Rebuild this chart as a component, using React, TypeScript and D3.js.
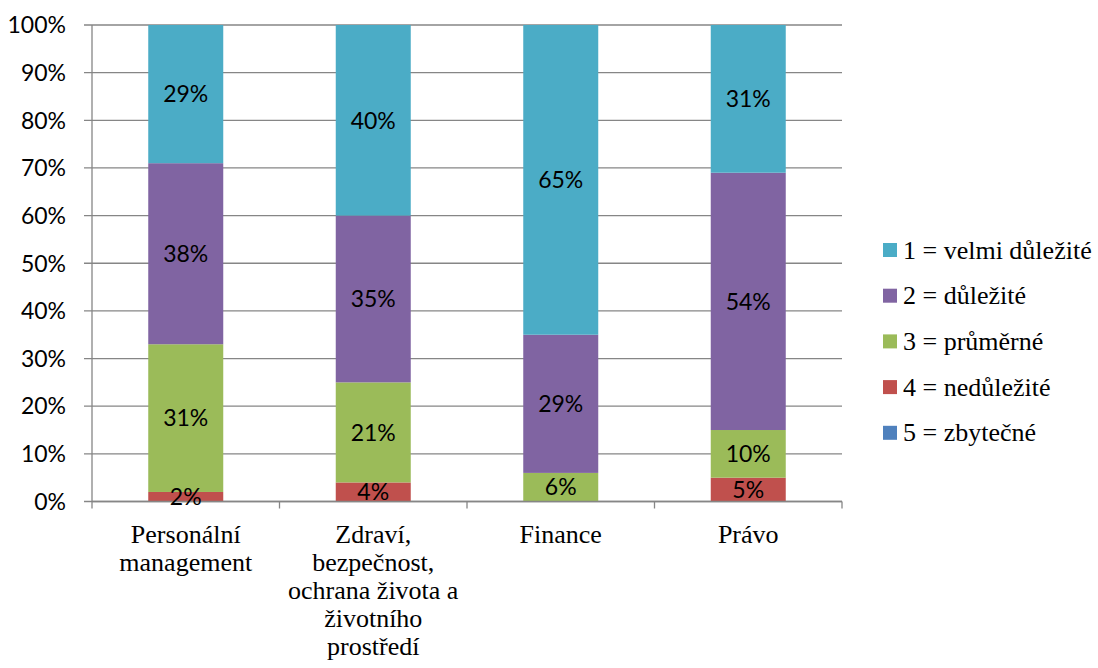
import React from "react";
import * as d3 from "d3";

const categories: string[][] = [
  ["Personální", "management"],
  ["Zdraví,", "bezpečnost,", "ochrana života a", "životního", "prostředí"],
  ["Finance"],
  ["Právo"],
];
const categoryKeys = ["Personální management", "Zdraví", "Finance", "Právo"];

const seriesNames = [
  "1 = velmi důležité",
  "2 = důležité",
  "3 = průměrné",
  "4 = nedůležité",
  "5 = zbytečné",
];
const seriesColors = ["#4BACC6", "#8064A2", "#9BBB59", "#C0504D", "#4F81BD"];

const s1 = [29, 40, 65, 31];
const s2 = [38, 35, 29, 54];
const s3 = [31, 21, 6, 10];
const s4 = [2, 4, 0, 5];
const s5 = [0, 0, 0, 0];

const yTicks = [0, 10, 20, 30, 40, 50, 60, 70, 80, 90, 100];

const W = 1098;
const H = 668;
const left = 92;
const right = 842;
const top = 25;
const bottom = 501.5;

export default function App() {
  const allSeries = [s1, s2, s3, s4, s5];
  const keys = ["k0", "k1", "k2", "k3", "k4"];
  const rows = categoryKeys.map((c, i) => {
    const r: any = { cat: c };
    keys.forEach((k, j) => (r[k] = allSeries[j][i]));
    return r;
  });
  const stackOrder = ["k4", "k3", "k2", "k1", "k0"];
  const stacked = d3.stack<any>().keys(stackOrder)(rows);

  const x = d3
    .scaleBand<string>()
    .domain(categoryKeys)
    .range([left, right])
    .paddingInner(0.6)
    .paddingOuter(0.3);
  const y = d3.scaleLinear().domain([0, 100]).range([bottom, top]);
  const step = x.step();

  const sansStyle = { fontFamily: "Lato" };
  const serifStyle = { fontFamily: "Liberation Serif" };
  const grid = "#868686";

  const boundaries = d3.range(categoryKeys.length + 1).map((i) => left + i * step);

  return (
    <svg
      width={W}
      height={H}
      style={{ position: "absolute", left: 0, top: 0, background: "#fff" }}
    >
      {yTicks.map((t) => (
        <line
          key={"g" + t}
          x1={84}
          x2={right}
          y1={y(t)}
          y2={y(t)}
          stroke={grid}
          strokeWidth={1.3}
        />
      ))}
      {yTicks.map((t) => (
        <text
          key={"yl" + t}
          x={66}
          y={y(t)}
          dy="0.36em"
          textAnchor="end"
          style={sansStyle}
          fontSize={23}
          fill="#000"
        >
          {t + "%"}
        </text>
      ))}
      {stacked.map((layer) => {
        const idx = keys.indexOf(layer.key);
        return (
          <g key={layer.key} fill={seriesColors[idx]}>
            {layer.map((d: any, i: number) => {
              const v = d[1] - d[0];
              if (v <= 0) return null;
              return (
                <rect
                  key={i}
                  x={x(categoryKeys[i])}
                  width={x.bandwidth()}
                  y={y(d[1])}
                  height={y(d[0]) - y(d[1])}
                />
              );
            })}
          </g>
        );
      })}
      <line x1={left} x2={left} y1={top} y2={bottom} stroke={grid} strokeWidth={1.3} />
      <line x1={left} x2={right} y1={bottom} y2={bottom} stroke={grid} strokeWidth={1.3} />
      {boundaries.map((bx, i) => (
        <line
          key={"bt" + i}
          x1={bx}
          x2={bx}
          y1={bottom}
          y2={bottom + 7}
          stroke={grid}
          strokeWidth={1.3}
        />
      ))}
      {stacked.map((layer) =>
        layer.map((d: any, i: number) => {
          const v = d[1] - d[0];
          if (v <= 0) return null;
          return (
            <text
              key={layer.key + "l" + i}
              x={(x(categoryKeys[i]) as number) + x.bandwidth() / 2}
              y={(y(d[0]) + y(d[1])) / 2}
              dy="0.36em"
              textAnchor="middle"
              style={sansStyle}
              fontSize={23}
              fill="#000"
            >
              {v + "%"}
            </text>
          );
        })
      )}
      {categories.map((lines, i) => (
        <text
          key={"c" + i}
          x={(x(categoryKeys[i]) as number) + x.bandwidth() / 2}
          y={543}
          textAnchor="middle"
          style={serifStyle}
          fontSize={26}
          fill="#000"
        >
          {lines.map((ln, j) => (
            <tspan key={j} x={(x(categoryKeys[i]) as number) + x.bandwidth() / 2} dy={j === 0 ? 0 : 28}>
              {ln}
            </tspan>
          ))}
        </text>
      ))}
      {seriesNames.map((n, i) => (
        <g key={"lg" + i} transform={`translate(883, ${250 + i * 45.7})`}>
          <rect x={0} y={-7} width={14} height={14} fill={seriesColors[i]} />
          <text x={20} y={0} dy="0.33em" style={serifStyle} fontSize={26} fill="#000">
            {n}
          </text>
        </g>
      ))}
    </svg>
  );
}
